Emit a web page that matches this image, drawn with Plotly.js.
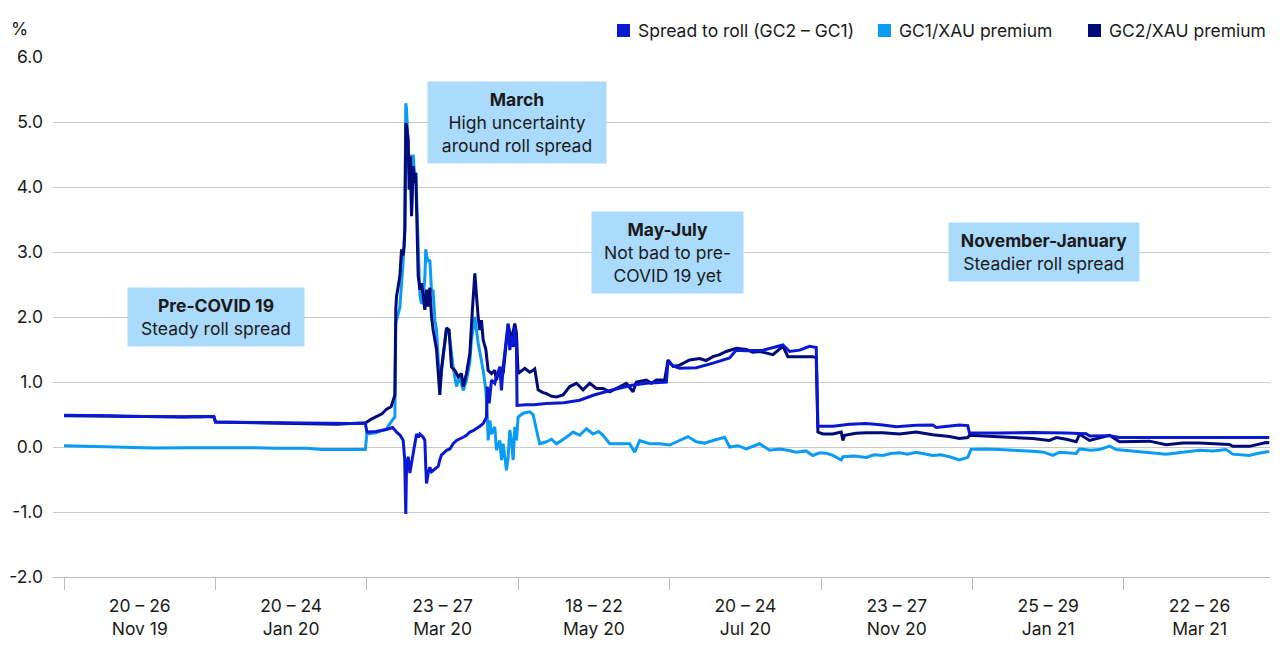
<!DOCTYPE html>
<html>
<head>
<meta charset="utf-8">
<script src="https://cdn.plot.ly/plotly-3.0.1.min.js"></script>
<style>
  html, body { margin: 0; padding: 0; background: #ffffff; }
  #chart { width: 1280px; height: 664px; }
</style>
</head>
<body>
<div id="chart"></div>
<script>
// ---------- DATA (x = position in weeks along the 8 sampled weeks) ----------
const weekLabels = ["20 – 26<br>Nov 19", "20 – 24<br>Jan 20", "23 – 27<br>Mar 20", "18 – 22<br>May 20",
                    "20 – 24<br>Jul 20", "23 – 27<br>Nov 20", "25 – 29<br>Jan 21", "22 – 26<br>Mar 21"];
const seriesNames = ["Spread to roll (GC2 – GC1)", "GC1/XAU premium", "GC2/XAU premium"];
const yTickVals = [-2, -1, 0, 1, 2, 3, 4, 5, 6];
const yTickText = ["-2.0", "-1.0", "0.0", "1.0", "2.0", "3.0", "4.0", "5.0", "6.0"];

const xSpread = [0, 0.1, 0.2, 0.3, 0.4, 0.5, 0.55, 0.6, 0.7, 0.8, 0.85, 0.9, 0.95, 0.99,
  1.0, 1.2, 1.4, 1.6, 1.7, 1.8, 1.9, 1.99,
  2.0, 2.06, 2.13, 2.17, 2.19, 2.2, 2.22, 2.24, 2.25, 2.257, 2.262, 2.273, 2.284, 2.295, 2.306, 2.317, 2.328, 2.34, 2.35, 2.372, 2.383, 2.389, 2.394, 2.405, 2.416, 2.427, 2.438, 2.449, 2.46, 2.471, 2.482, 2.493, 2.504, 2.526, 2.548, 2.57, 2.592, 2.614, 2.636, 2.658, 2.68, 2.702, 2.724, 2.746, 2.768, 2.79, 2.795, 2.808, 2.823, 2.845, 2.856, 2.867, 2.878, 2.889, 2.9, 2.917, 2.933, 2.944, 2.955, 2.966, 2.977, 2.988, 2.992,
  3.05, 3.1, 3.186, 3.3, 3.406, 3.5, 3.626, 3.75, 3.846, 3.93, 3.978, 3.989,
  4.03, 4.066, 4.176, 4.286, 4.396, 4.44, 4.5, 4.616, 4.726, 4.748, 4.792, 4.858, 4.924, 4.968, 4.979,
  5.078, 5.188, 5.298, 5.408, 5.496, 5.628, 5.738, 5.76, 5.848, 5.914, 5.969, 5.98,
  6.178, 6.398, 6.619, 6.751, 6.773, 6.905, 6.971, 7.5, 7.96];
const ySpread = [0.49, 0.49, 0.485, 0.48, 0.475, 0.47, 0.465, 0.47, 0.465, 0.46, 0.47, 0.47, 0.48, 0.47,
  0.385, 0.38, 0.375, 0.37, 0.36, 0.355, 0.36, 0.37,
  0.23, 0.24, 0.27, 0.3, 0.24, 0.22, 0.18, 0.1, -0.2, -1.03, -0.3, -0.15, -0.4, -0.25, -0.1, 0.05, 0.2, 0.15, 0.2, 0.15, 0.1, -0.3, -0.56, -0.4, -0.31, -0.38, -0.36, -0.33, -0.31, -0.3, -0.2, -0.12, -0.1, -0.05, -0.03, 0.05, 0.1, 0.12, 0.15, 0.18, 0.23, 0.25, 0.28, 0.32, 0.36, 0.46, 0.93, 0.67, 1.03, 0.98, 1.08, 1.13, 1.23, 0.87, 1.23, 1.54, 1.9, 1.49, 1.7, 1.54, 1.85, 1.5, 0.64,
  0.65, 0.65, 0.67, 0.68, 0.72, 0.8, 0.88, 0.95, 0.98, 0.99, 1.0, 1.31,
  1.24, 1.21, 1.22, 1.29, 1.37, 1.49, 1.48, 1.49, 1.55, 1.57, 1.47, 1.49, 1.55, 1.53, 0.32,
  0.32, 0.35, 0.36, 0.34, 0.31, 0.335, 0.34, 0.3, 0.32, 0.34, 0.33, 0.215,
  0.215, 0.225, 0.215, 0.205, 0.17, 0.175, 0.145, 0.145, 0.145];

const xGC1 = [0, 0.2, 0.4, 0.6, 0.8, 1.0, 1.2, 1.4, 1.6, 1.7, 1.8, 1.9, 1.99,
  2.0, 2.06, 2.13, 2.17, 2.185, 2.191, 2.207, 2.218, 2.24, 2.251, 2.257, 2.262, 2.273, 2.279, 2.288, 2.295, 2.306, 2.317, 2.323, 2.332, 2.339, 2.345, 2.35, 2.361, 2.372, 2.383, 2.389, 2.394, 2.405, 2.416, 2.427, 2.438, 2.449, 2.46, 2.471, 2.482, 2.504, 2.526, 2.543, 2.559, 2.57, 2.592, 2.614, 2.636, 2.658, 2.68, 2.691, 2.713, 2.735, 2.768, 2.786, 2.795, 2.801, 2.812, 2.823, 2.845, 2.856, 2.878, 2.889, 2.9, 2.922, 2.933, 2.944, 2.955, 2.966, 2.977, 2.988, 2.999,
  3.032, 3.076, 3.098, 3.131, 3.142, 3.186, 3.22, 3.252, 3.29, 3.318, 3.362, 3.406, 3.45, 3.494, 3.53, 3.56, 3.604, 3.67, 3.736, 3.769, 3.802, 3.868, 3.934,
  4.0, 4.066, 4.121, 4.176, 4.23, 4.286, 4.363, 4.396, 4.45, 4.506, 4.594, 4.66, 4.726, 4.78, 4.836, 4.9, 4.946, 4.99,
  5.04, 5.078, 5.133, 5.144, 5.22, 5.298, 5.35, 5.408, 5.46, 5.518, 5.57, 5.628, 5.68, 5.738, 5.79, 5.848, 5.914, 5.969, 5.991,
  6.08, 6.178, 6.29, 6.398, 6.47, 6.531, 6.575, 6.63, 6.685, 6.707, 6.78, 6.839, 6.905, 6.949,
  7.059, 7.17, 7.279, 7.389, 7.499, 7.59, 7.675, 7.719, 7.829, 7.88, 7.939, 7.96];
const yGC1 = [0.02, 0.01, 0.0, -0.015, -0.01, -0.005, -0.01, -0.02, -0.02, -0.04, -0.045, -0.04, -0.04,
  0.2, 0.22, 0.28, 0.42, 0.46, 1.9, 2.05, 2.15, 2.87, 3.4, 5.29, 5.2, 4.6, 4.2, 4.5, 3.6, 4.5, 4.1, 4.22, 3.6, 3.0, 2.5, 2.35, 2.2, 2.3, 2.6, 3.04, 2.95, 2.85, 2.88, 2.4, 2.4, 1.95, 1.8, 1.3, 0.92, 1.4, 1.8, 1.75, 1.4, 1.23, 0.93, 1.08, 0.87, 1.03, 1.3, 1.65, 2.0, 1.6, 1.18, 0.87, 0.51, 0.1, 0.41, 0.2, 0.31, -0.05, 0.1, -0.2, 0.05, -0.36, -0.15, 0.26, 0.1, -0.2, 0.31, 0.1, 0.46,
  0.52, 0.54, 0.5, 0.15, 0.05, 0.08, 0.12, 0.05, 0.1, 0.15, 0.23, 0.18, 0.28, 0.2, 0.24, 0.18, 0.05, 0.05, 0.05, -0.08, 0.1, 0.05, 0.05,
  0.03, 0.1, 0.16, 0.08, 0.06, 0.1, 0.15, 0.0, 0.02, -0.03, 0.05, -0.05, -0.03, -0.05, -0.08, -0.06, -0.13, -0.09,
  -0.1, -0.13, -0.2, -0.15, -0.14, -0.16, -0.12, -0.13, -0.1, -0.09, -0.11, -0.08, -0.1, -0.13, -0.12, -0.15, -0.2, -0.16, -0.035,
  -0.03, -0.04, -0.05, -0.065, -0.08, -0.13, -0.08, -0.09, -0.1, -0.03, -0.05, -0.04, 0.015, -0.04,
  -0.06, -0.09, -0.11, -0.08, -0.05, -0.06, -0.04, -0.11, -0.13, -0.1, -0.075, -0.07];

const xGC2 = [0, 0.2, 0.4, 0.5, 0.6, 0.8, 0.9, 0.95, 0.99,
  1.0, 1.2, 1.4, 1.6, 1.7, 1.8, 1.9, 1.99,
  2.03, 2.064, 2.1, 2.13, 2.16, 2.174, 2.185, 2.191, 2.196, 2.207, 2.218, 2.229, 2.24, 2.246, 2.251, 2.257, 2.262, 2.273, 2.279, 2.288, 2.295, 2.306, 2.317, 2.323, 2.332, 2.339, 2.35, 2.361, 2.372, 2.383, 2.394, 2.405, 2.416, 2.427, 2.438, 2.46, 2.478, 2.482, 2.493, 2.504, 2.526, 2.543, 2.559, 2.581, 2.603, 2.625, 2.636, 2.658, 2.68, 2.697, 2.713, 2.735, 2.746, 2.757, 2.768, 2.786, 2.801, 2.823, 2.845, 2.856, 2.878, 2.9, 2.922, 2.933, 2.955, 2.977, 2.988, 2.999,
  3.043, 3.076, 3.098, 3.109, 3.131, 3.16, 3.186, 3.22, 3.252, 3.296, 3.34, 3.384, 3.428, 3.472, 3.516, 3.56, 3.604, 3.67, 3.714, 3.758, 3.78, 3.846, 3.88, 3.912, 3.967, 3.989,
  4.022, 4.066, 4.1, 4.132, 4.198, 4.24, 4.286, 4.33, 4.374, 4.44, 4.506, 4.55, 4.594, 4.682, 4.748, 4.781, 4.858, 4.946, 4.968, 4.979,
  5.012, 5.078, 5.133, 5.144, 5.155, 5.23, 5.298, 5.408, 5.518, 5.628, 5.738, 5.848, 5.914, 5.969, 5.98,
  6.08, 6.178, 6.29, 6.398, 6.508, 6.553, 6.62, 6.685, 6.707, 6.773, 6.84, 6.905, 6.971,
  7.059, 7.169, 7.279, 7.389, 7.499, 7.6, 7.697, 7.719, 7.829, 7.939, 7.96];
const yGC2 = [0.48, 0.475, 0.47, 0.465, 0.46, 0.455, 0.46, 0.47, 0.46,
  0.385, 0.375, 0.37, 0.365, 0.35, 0.35, 0.36, 0.37,
  0.43, 0.47, 0.51, 0.58, 0.62, 0.72, 0.8, 2.11, 2.32, 2.47, 2.63, 3.04, 2.95, 3.09, 3.34, 4.98, 4.95, 4.73, 3.96, 4.47, 3.55, 4.32, 4.06, 4.22, 3.45, 2.63, 2.42, 2.52, 2.32, 2.11, 2.42, 2.16, 2.45, 2.0, 1.8, 1.5, 0.93, 0.8, 1.2, 1.39, 1.83, 1.8, 1.23, 1.18, 1.08, 1.13, 0.93, 1.13, 1.44, 2.11, 2.67, 2.0, 1.8, 1.95, 1.65, 1.5, 1.18, 1.13, 1.18, 1.03, 1.23, 1.13, 1.65, 1.88, 1.65, 1.9, 1.75, 1.13,
  1.21, 1.15, 1.18, 1.2, 0.88, 0.84, 0.82, 0.78, 0.77, 0.8, 0.93, 0.98, 0.88, 0.98, 0.9, 0.9, 0.85, 0.93, 0.98, 0.85, 1.0, 1.03, 0.98, 1.03, 1.03, 1.34,
  1.24, 1.26, 1.3, 1.34, 1.36, 1.33, 1.39, 1.42, 1.47, 1.52, 1.5, 1.46, 1.47, 1.42, 1.55, 1.39, 1.39, 1.39, 1.37, 0.23,
  0.2, 0.2, 0.23, 0.1, 0.18, 0.21, 0.22, 0.22, 0.2, 0.23, 0.19, 0.16, 0.13, 0.145, 0.18,
  0.17, 0.155, 0.15, 0.13, 0.1, 0.145, 0.12, 0.08, 0.195, 0.1, 0.14, 0.18, 0.08,
  0.08, 0.09, 0.035, 0.06, 0.06, 0.05, 0.04, 0.01, 0.01, 0.07, 0.065];

// ---------- STYLE ----------
const colSpread = "#0a18d2", colGC1 = "#0a9cf5", colGC2 = "#000a78";
const FONT = "Inter, Roboto, 'Noto Sans', sans-serif";
const TXT = "#1a1a1a";
const FS = 17.5;
const L = 53, R = 1270, T = 57, B = 577;
const px = v => (v - L) / (R - L);
const py = v => (B - v) / (B - T);

const traces = [
  {x: xGC1, y: yGC1, name: seriesNames[1], mode: "lines", line: {color: colGC1, width: 3}, hoverinfo: "skip"},
  {x: xGC2, y: yGC2, name: seriesNames[2], mode: "lines", line: {color: colGC2, width: 3}, hoverinfo: "skip"},
  {x: xSpread, y: ySpread, name: seriesNames[0], mode: "lines", line: {color: colSpread, width: 3}, hoverinfo: "skip"}
];

const boxFill = "#aadafc";
function box(cx, cy, w, h, text) {
  return {xref: "paper", yref: "paper", x: px(cx), y: py(cy), xanchor: "center", yanchor: "middle",
    showarrow: false, text: text, align: "center", bgcolor: boxFill, borderpad: 0, width: w, height: h,
    font: {family: FONT, size: FS, color: TXT}};
}

const legendItems = [
  {sq: 617, tx: 636, name: seriesNames[0], color: colSpread},
  {sq: 878, tx: 897, name: seriesNames[1], color: colGC1},
  {sq: 1088, tx: 1107, name: seriesNames[2], color: colGC2}
];
const shapes = legendItems.map(it => ({type: "rect", xref: "paper", yref: "paper",
  x0: px(it.sq), x1: px(it.sq + 13), y0: py(37), y1: py(24), fillcolor: it.color, line: {width: 0}}));

const annotations = [
  box(216, 317, 176, 58, "<b>Pre-COVID 19</b><br>Steady roll spread"),
  box(517, 122.5, 178, 81, "<b>March</b><br>High uncertainty<br>around roll spread"),
  box(667.5, 252.5, 151, 81, "<b>May-July</b><br>Not bad to pre-<br>COVID 19 yet"),
  box(1044, 252, 190, 58, "<b>November-January</b><br>Steadier roll spread"),
  {xref: "paper", yref: "paper", x: px(9), y: py(29), xanchor: "left", yanchor: "middle", showarrow: false,
   text: "%", font: {family: FONT, size: FS, color: TXT}}
].concat(legendItems.map(it => ({xref: "paper", yref: "paper", x: px(it.tx), y: py(30.5), xanchor: "left",
   yanchor: "middle", showarrow: false, text: it.name, font: {family: FONT, size: FS, color: TXT}})));

const layout = {
  width: 1280, height: 664,
  margin: {l: L, r: 1280 - R, t: T, b: 664 - B, pad: 0},
  paper_bgcolor: "#ffffff", plot_bgcolor: "#ffffff",
  showlegend: false,
  font: {family: FONT, size: FS, color: TXT},
  xaxis: {
    range: [-0.073, 7.965], showgrid: false, zeroline: false,
    showline: true, linecolor: "#bdbdbd", linewidth: 1,
    tickmode: "array", tickvals: weekLabels.map((_, i) => i + 0.5), ticktext: weekLabels,
    ticks: "", ticklabelstandoff: 13,
    minor: {tickmode: "array", tickvals: weekLabels.map((_, i) => i), ticks: "outside", ticklen: 12,
            tickcolor: "#bdbdbd", tickwidth: 1, showgrid: false},
    tickfont: {family: FONT, size: FS, color: TXT}, fixedrange: true
  },
  yaxis: {
    range: [-2, 6], tickmode: "array", tickvals: yTickVals, ticktext: yTickText,
    showgrid: true, gridcolor: "#c8c8c8", gridwidth: 1, zeroline: false, showline: false,
    ticks: "", ticklabelstandoff: 9,
    tickfont: {family: FONT, size: FS, color: TXT}, fixedrange: true
  },
  shapes: shapes,
  annotations: annotations
};

Plotly.newPlot("chart", traces, layout, {staticPlot: true, displayModeBar: false});
</script>
</body>
</html>
